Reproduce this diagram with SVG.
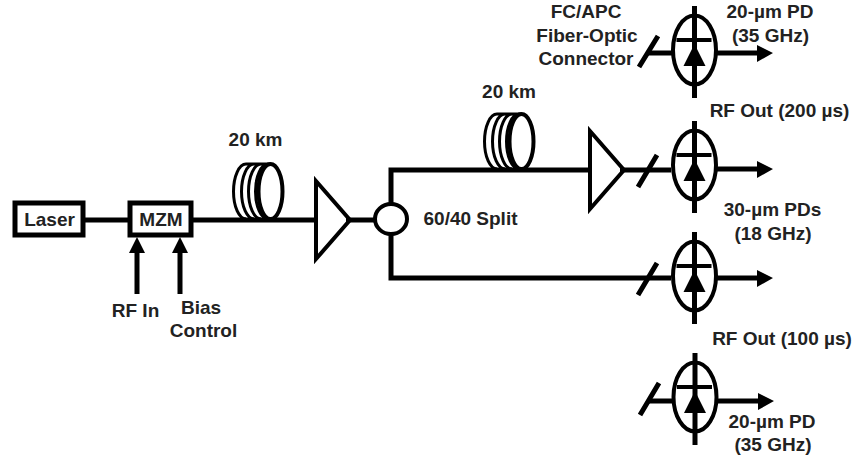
<svg xmlns="http://www.w3.org/2000/svg" width="855" height="457" viewBox="0 0 855 457">
<style>
.l{fill:none;stroke:#000;stroke-width:5}
.t{fill:none;stroke:#000;stroke-width:3}
.n{fill:none;stroke:#000;stroke-width:4}
.h{fill:#000;stroke:none}
text{font-family:"Liberation Sans",Arial,sans-serif;font-weight:bold;font-size:19px;fill:#222;text-anchor:middle}
</style>
<defs>
<g id="pd">
<ellipse cx="0" cy="0" rx="21.500" ry="34.500" class="n"/>
<path d="M0-44V48" class="l"/>
<path d="M-18-10H17" class="n"/>
<path d="M0-6L11 16H-11Z" class="h"/>
</g>
<g id="coil">
<path d="M14 0A12.500 27.500 0 0 0 14 55M22 0A12.500 27.500 0 0 0 22 55M29 0A12.500 27.500 0 0 0 29 55M36 0A12.500 27.500 0 0 0 36 55M14 0H38" class="t"/>
<ellipse cx="38.500" cy="27.500" rx="12" ry="27.500" class="n"/>
</g>
</defs>
<g id="connectors">
<path d="M85 220H128M193 220H316M346 220H374M391 203V170H590M391 235V278H671M620 170H671M648 53H672M648 401H672" class="l"/>
<path d="M717 53H762M717 169H762M717 278H762M717 401H762M137 294V248M180 294V248" class="l"/>
<path d="M773 53L757 45V62ZM773 169L757 161V178ZM773 278L757 270V287ZM774 401L758 393V410ZM137 237L129 253H145ZM180 237L172 253H188Z" class="h"/>
<path d="M639 67L658 36M638 187L657 155M638 295L657 263M640 415L659 383" class="l"/>
</g>
<g id="laser"><rect x="15" y="203" width="68" height="32" class="l"/><text x="49.500" y="226">Laser</text></g>
<g id="mzm"><rect x="130" y="203" width="61" height="32" class="l"/><text x="161" y="226">MZM</text></g>
<g id="coil1"><use href="#coil" x="232" y="164"/><text x="255.500" y="146">20 km</text></g>
<g id="amp1"><path d="M316 181V259L350 220Z" class="n"/></g>
<g id="splitter"><ellipse cx="391" cy="219" rx="16" ry="15" class="n"/><text x="470.500" y="225">60/40 Split</text></g>
<g id="coil2"><use href="#coil" x="483" y="114"/><text x="509" y="98">20 km</text></g>
<g id="amp2"><path d="M590 131V209L624 170Z" class="n"/></g>
<g id="pd1"><use href="#pd" x="694.500" y="50"/></g>
<g id="pd2"><use href="#pd" x="694.500" y="165"/></g>
<g id="pd3"><use href="#pd" x="694.500" y="276"/></g>
<g id="pd4"><use href="#pd" x="695" y="397"/></g>
<g id="labels">
<text x="135.500" y="317">RF In</text>
<text x="201" y="314">Bias</text>
<text x="203.500" y="337">Control</text>
<text x="586" y="18">FC/APC</text>
<text x="587" y="42">Fiber-Optic</text>
<text x="586" y="65">Connector</text>
<text x="770" y="18">20-µm PD</text>
<text x="770.500" y="42">(35 GHz)</text>
<text x="779.500" y="117">RF Out (200 µs)</text>
<text x="772.500" y="216">30-µm PDs</text>
<text x="773" y="240">(18 GHz)</text>
<text x="782" y="345">RF Out (100 µs)</text>
<text x="772" y="428">20-µm PD</text>
<text x="773" y="451">(35 GHz)</text>
</g>
</svg>
